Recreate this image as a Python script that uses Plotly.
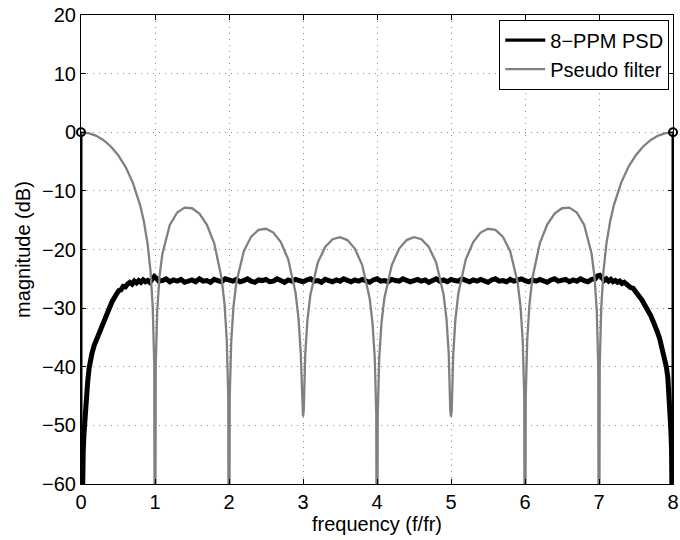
import plotly.graph_objects as go

# ---------------- data ----------------
filt_f = [0.0, 0.1, 0.2, 0.3, 0.4, 0.5, 0.6, 0.7, 0.8, 0.85, 0.9, 0.94, 0.97, 0.99, 1.0,
          1.01, 1.03, 1.06, 1.1, 1.2, 1.3, 1.4, 1.5, 1.6, 1.7, 1.8, 1.9, 1.94, 1.97, 1.99, 2.0,
          2.01, 2.03, 2.06, 2.1, 2.2, 2.3, 2.4, 2.5, 2.6, 2.7, 2.8, 2.9, 2.94, 2.97, 2.99, 3.0,
          3.01, 3.03, 3.06, 3.1, 3.2, 3.3, 3.4, 3.5, 3.6, 3.7, 3.8, 3.9, 3.94, 3.97, 3.99, 4.0,
          4.01, 4.03, 4.06, 4.1, 4.2, 4.3, 4.4, 4.5, 4.6, 4.7, 4.8, 4.9, 4.94, 4.97, 4.99, 5.0,
          5.01, 5.03, 5.06, 5.1, 5.2, 5.3, 5.4, 5.5, 5.6, 5.7, 5.8, 5.9, 5.94, 5.97, 5.99, 6.0,
          6.01, 6.03, 6.06, 6.1, 6.2, 6.3, 6.4, 6.5, 6.6, 6.7, 6.8, 6.9, 6.94, 6.97, 6.99, 7.0,
          7.01, 7.03, 7.06, 7.1, 7.15, 7.2, 7.3, 7.4, 7.5, 7.6, 7.7, 7.8, 7.9, 8.0]
filt_db = [0.0, -0.14, -0.57, -1.31, -2.38, -3.87, -5.86, -8.58, -12.48, -15.23, -19.05, -23.75, -29.99, -39.69, -100,
           -39.86, -30.49, -24.74, -20.70, -15.82, -13.68, -12.86, -12.96, -13.88, -15.74, -18.93, -24.90, -29.39, -35.48, -45.08, -100,
           -45.14, -35.75, -29.80, -25.58, -20.30, -17.80, -16.66, -16.46, -17.11, -18.72, -21.68, -27.43, -31.83, -37.86, -47.42, -48.5,
           -47.45, -37.94, -32.00, -27.71, -22.24, -19.57, -18.25, -17.89, -18.39, -19.84, -22.65, -28.26, -32.60, -38.59, -48.12, -100,
           -48.12, -38.59, -32.60, -28.26, -22.65, -19.84, -18.39, -17.89, -18.25, -19.57, -22.24, -27.71, -32.00, -37.94, -47.45, -48.5,
           -47.42, -37.86, -31.83, -27.43, -21.68, -18.72, -17.11, -16.46, -16.66, -17.80, -20.30, -25.58, -29.80, -35.75, -45.14, -100,
           -45.08, -35.48, -29.39, -24.90, -18.93, -15.74, -13.88, -12.96, -12.86, -13.68, -15.82, -20.70, -24.74, -30.49, -39.86, -100,
           -39.69, -29.99, -23.75, -19.05, -15.23, -12.48, -8.58, -5.86, -3.87, -2.38, -1.31, -0.57, -0.14, 0.0]

psd_f = [0.00, 0.01, 0.02, 0.03, 0.04, 0.05, 0.07, 0.09, 0.11, 0.13, 0.15, 0.18, 0.21, 0.24, 0.27,
         0.30, 0.33, 0.36, 0.39, 0.42, 0.45, 0.48, 0.51, 0.54, 0.57, 0.60, 0.63, 0.66, 0.69, 0.72,
         0.75, 0.78, 0.81, 0.84, 0.87, 0.90, 0.93, 0.96, 0.99, 1.02, 1.05,
         1.10, 1.15, 1.20, 1.25, 1.30, 1.35, 1.40, 1.45, 1.50, 1.55, 1.60, 1.65, 1.70, 1.75, 1.80,
         1.85, 1.90, 1.95, 2.00, 2.05, 2.10, 2.15, 2.20, 2.25, 2.30, 2.35, 2.40, 2.45, 2.50, 2.55,
         2.60, 2.65, 2.70, 2.75, 2.80, 2.85, 2.90, 2.95, 3.00, 3.05, 3.10, 3.15, 3.20, 3.25, 3.30,
         3.35, 3.40, 3.45, 3.50, 3.55, 3.60, 3.65, 3.70, 3.75, 3.80, 3.85, 3.90, 3.95, 4.00, 4.05,
         4.10, 4.15, 4.20, 4.25, 4.30, 4.35, 4.40, 4.45, 4.50, 4.55, 4.60, 4.65, 4.70, 4.75, 4.80,
         4.85, 4.90, 4.95, 5.00, 5.05, 5.10, 5.15, 5.20, 5.25, 5.30, 5.35, 5.40, 5.45, 5.50, 5.55,
         5.60, 5.65, 5.70, 5.75, 5.80, 5.85, 5.90, 5.95, 6.00, 6.05, 6.10, 6.15, 6.20, 6.25, 6.30,
         6.35, 6.40, 6.45, 6.50, 6.55, 6.60, 6.65, 6.70, 6.75, 6.80, 6.85, 6.90,
         6.95, 6.98, 7.01, 7.04, 7.07, 7.10, 7.13, 7.16, 7.19, 7.22, 7.25, 7.28, 7.31, 7.34, 7.37,
         7.40, 7.43, 7.46, 7.49, 7.52, 7.55, 7.58, 7.61, 7.64, 7.67, 7.70, 7.73, 7.76, 7.79, 7.82,
         7.85, 7.88, 7.91, 7.93, 7.95, 7.96, 7.97, 7.98, 7.99, 8.00]
psd_db = [-80.0, -64.0, -58.0, -54.5, -51.5, -49.3, -45.5, -42.6, -40.2, -38.7, -37.6, -36.3, -35.3, -34.2, -33.4,
          -32.5, -31.5, -30.4, -29.8, -28.9, -28.1, -27.6, -27.0, -26.9, -26.3, -26.4, -25.9, -25.6, -25.9, -25.4,
          -25.7, -25.3, -25.6, -25.2, -25.5, -25.3, -25.6, -25.1, -24.6, -24.9, -25.4,
          -25.3, -25.0, -25.5, -25.2, -25.4, -25.1, -25.6, -25.3, -25.2, -25.5, -25.0, -25.4, -25.3, -25.6, -25.1,
          -25.3, -25.5, -25.0, -25.2, -25.4, -25.1, -25.5, -25.3, -25.0, -25.4, -25.6, -25.2, -25.3, -25.1, -25.5,
          -25.4, -25.0, -25.3, -25.6, -25.2, -25.4, -25.1, -25.3, -25.5, -25.2, -25.0, -25.4, -25.3, -25.6, -25.1,
          -25.3, -25.5, -25.2, -25.4, -25.0, -25.3, -25.5, -25.2, -25.4, -25.1, -25.3, -25.6, -25.2, -25.0, -25.4,
          -25.3, -25.5, -25.1, -25.3, -25.4, -25.0, -25.2, -25.5, -25.3, -25.1, -25.4, -25.2, -25.6, -25.3, -25.0,
          -25.4, -25.2, -25.5, -25.1, -25.3, -25.4, -25.0, -25.3, -25.5, -25.2, -25.4, -25.1, -25.3, -25.6, -25.2,
          -25.0, -25.4, -25.3, -25.5, -25.1, -25.4, -25.2, -25.0, -25.3, -25.5, -25.2, -25.4, -25.1, -25.3, -25.6,
          -25.2, -25.0, -25.4, -25.3, -25.1, -25.5, -25.2, -25.4, -25.0, -25.3, -25.5, -25.1,
          -25.0, -24.5, -24.4, -24.8, -25.3, -25.0, -25.4, -25.1, -25.5, -25.3, -25.6, -25.4, -25.8, -25.6, -26.0,
          -26.1, -26.5, -26.6, -27.2, -27.5, -28.1, -28.6, -29.2, -29.9, -30.5, -31.3, -32.2, -33.0, -34.1, -35.2,
          -36.6, -38.0, -40.0, -41.8, -45.0, -47.5, -50.5, -54.0, -59.0, -80.0]

stem_f = [0, 8]
stem_db = [0, 0]
stem_floor = -100

x_ticks = [0, 1, 2, 3, 4, 5, 6, 7, 8]
y_ticks = [-60, -50, -40, -30, -20, -10, 0, 10, 20]

series_names = ["8\u2212PPM PSD", "Pseudo filter"]

# ---------------- figure ----------------
FONT = "Liberation Sans, Arial, Helvetica, sans-serif"
GRAY = "#808080"

stem_x, stem_y = [], []
for f, d in zip(stem_f, stem_db):
    stem_x += [f, f, None]
    stem_y += [d, stem_floor, None]

fig = go.Figure()
fig.add_trace(go.Scatter(x=stem_x, y=stem_y, mode="lines",
                         line=dict(color="black", width=3), showlegend=False,
                         hoverinfo="skip"))
fig.add_trace(go.Scatter(x=psd_f, y=psd_db, mode="lines", name=series_names[0],
                         line=dict(color="black", width=5), showlegend=False))
fig.add_trace(go.Scatter(x=filt_f, y=filt_db, mode="lines", name=series_names[1],
                         line=dict(color=GRAY, width=2.3), showlegend=False))
fig.add_trace(go.Scatter(x=stem_f, y=stem_db, mode="markers", showlegend=False,
                         marker=dict(symbol="circle-open", size=8, color="black",
                                     line=dict(width=2, color="black")),
                         cliponaxis=False))
# legend entries (line samples as in the reference)
fig.add_trace(go.Scatter(x=[None], y=[None], mode="lines", name=series_names[0],
                         line=dict(color="black", width=3.3)))
fig.add_trace(go.Scatter(x=[None], y=[None], mode="lines", name=series_names[1],
                         line=dict(color=GRAY, width=2.3)))

axis_common = dict(
    showline=True, linecolor="black", linewidth=1, mirror="ticks",
    ticks="inside", ticklen=5, tickcolor="black", tickwidth=1,
    showgrid=True, gridcolor="#8c8c8c", gridwidth=1, griddash="1px,5px",
    zeroline=False, tickfont=dict(family=FONT, size=20, color="black"),
)

fig.update_xaxes(range=[0, 8], tickvals=x_ticks, ticklabelstandoff=0,
                 title=dict(text="frequency (f/fr)", font=dict(family=FONT, size=20, color="black"),
                            standoff=4),
                 **axis_common)
fig.update_yaxes(range=[-60, 20], tickvals=y_ticks, ticklabelstandoff=0,
                 title=dict(text="magnitude (dB)", font=dict(family=FONT, size=20, color="black"),
                            standoff=6),
                 **axis_common)

fig.update_layout(
    width=680, height=540,
    margin=dict(l=81, r=7, t=15, b=56, autoexpand=False),
    paper_bgcolor="white", plot_bgcolor="white",
    font=dict(family=FONT, size=20, color="black"),
    legend=dict(x=0.9937, y=0.99, xanchor="right", yanchor="top",
                bgcolor="white", bordercolor="black", borderwidth=1,
                font=dict(family=FONT, size=20, color="black"),
                tracegroupgap=0, itemwidth=40),
    showlegend=True,
)

fig.write_html("out.html", config={"displayModeBar": False},
               post_script="document.body.style.margin='0';document.body.style.overflow='hidden';")
